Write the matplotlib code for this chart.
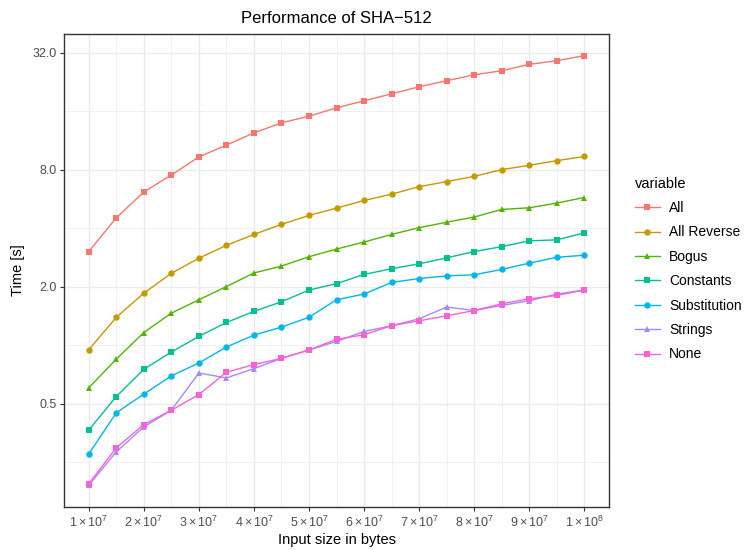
import matplotlib
matplotlib.use("Agg")
import matplotlib.pyplot as plt
import numpy as np

plt.rcParams['font.family'] = ['Liberation Sans', 'DejaVu Sans']
plt.rcParams['mathtext.fontset'] = 'custom'
plt.rcParams['mathtext.rm'] = 'Liberation Sans'
plt.rcParams['mathtext.it'] = 'Liberation Sans'

# input sizes in bytes, 1e7 .. 1e8 in steps of 5e6
sizes = [1.0e7, 1.5e7, 2.0e7, 2.5e7, 3.0e7, 3.5e7, 4.0e7, 4.5e7, 5.0e7, 5.5e7,
         6.0e7, 6.5e7, 7.0e7, 7.5e7, 8.0e7, 8.5e7, 9.0e7, 9.5e7, 1.0e8]

t_all = [3.03, 4.52, 6.14, 7.51, 9.30, 10.7, 12.37, 13.93, 15.08, 16.64,
         18.09, 19.66, 21.36, 22.94, 24.64, 25.83, 27.86, 29.1, 30.9]
t_all_reverse = [0.946, 1.39, 1.85, 2.34, 2.80, 3.26, 3.71, 4.18, 4.65, 5.07,
                 5.55, 5.98, 6.54, 6.94, 7.39, 8.0, 8.42, 8.9, 9.35]
t_bogus = [0.602, 0.847, 1.16, 1.46, 1.71, 2.0, 2.35, 2.55, 2.85, 3.12,
           3.39, 3.71, 4.02, 4.29, 4.56, 4.99, 5.09, 5.38, 5.75]
t_constants = [0.365, 0.543, 0.75, 0.921, 1.108, 1.307, 1.49, 1.67, 1.92, 2.07,
               2.31, 2.47, 2.62, 2.81, 3.03, 3.21, 3.44, 3.48, 3.78]
t_substitution = [0.275, 0.448, 0.559, 0.694, 0.808, 0.977, 1.125, 1.237, 1.39, 1.71,
                  1.83, 2.1, 2.2, 2.27, 2.3, 2.45, 2.64, 2.83, 2.9]
t_strings = [0.19, 0.282, 0.379, 0.462, 0.718, 0.677, 0.756, 0.854, 0.943, 1.044,
             1.175, 1.257, 1.365, 1.57, 1.506, 1.6, 1.69, 1.83, 1.92]
t_none = [0.193, 0.296, 0.389, 0.462, 0.556, 0.724, 0.793, 0.854, 0.943, 1.07,
          1.13, 1.257, 1.333, 1.414, 1.506, 1.63, 1.73, 1.80, 1.92]

names = ['All', 'All Reverse', 'Bogus', 'Constants', 'Substitution', 'Strings', 'None']
series = [t_all, t_all_reverse, t_bogus, t_constants, t_substitution, t_strings, t_none]
colors = ['#F8766D', '#C49A00', '#53B400', '#00C094', '#00B6EB', '#A58AFF', '#FB61D7']
markers = ['s', 'o', '^', 's', 'o', '^', 's']

fig = plt.figure(figsize=(7.45, 5.5), dpi=100)
ax = fig.add_axes([64/745, 1-507/550, (609-64)/745, (507-34)/550])

for name, ys, c, m in zip(names, series, colors, markers):
    ax.plot(sizes, ys, color=c, marker=m, markersize=4.6, lw=1.0,
            markeredgewidth=0, label=name)

ax.set_yscale('log', base=2)
ax.set_xlim(5.5e6, 1.045e8)
ax.set_ylim(2**-2.77, 2**5.32)

xmaj = [1e7 * k for k in range(1, 11)]
xlabels = [r'$%d\times10^{7}$' % k for k in range(1, 10)] + [r'$1\times10^{8}$']
ax.set_xticks(xmaj)
ax.set_xticklabels(xlabels)
ax.set_xticks([1.5e7 + 1e7 * k for k in range(9)], minor=True)

ymaj = [0.5, 2.0, 8.0, 32.0]
ax.set_yticks(ymaj)
ax.set_yticklabels(['0.5', '2.0', '8.0', '32.0'])
ax.set_yticks([0.25, 1.0, 4.0, 16.0], minor=True)
ax.yaxis.set_minor_formatter(matplotlib.ticker.NullFormatter())

ax.grid(which='major', color='#EBEBEB', lw=1.0)
ax.grid(which='minor', color='#EBEBEB', lw=0.5)
ax.set_axisbelow(True)
for s in ax.spines.values():
    s.set_color('#333333')
    s.set_linewidth(1.0)
ax.tick_params(which='major', length=3, width=0.8, color='#333333',
               labelcolor='#4D4D4D', labelsize=9, pad=2.5)
ax.tick_params(which='minor', length=0)

ax.set_xlabel('Input size in bytes', fontsize=10.5, labelpad=2)
ax.set_ylabel('Time [s]', fontsize=10.5, labelpad=5)
ax.set_title('Performance of SHA\u2212512', fontsize=12, pad=8)

leg = fig.legend(loc='center left', bbox_to_anchor=(622/745, 1-269/550),
                 frameon=False, title='variable', fontsize=10, title_fontsize=10.5,
                 labelspacing=0.75, handlelength=1.8, handletextpad=0.7,
                 alignment='left')

fig.savefig('out.png', dpi=100)
